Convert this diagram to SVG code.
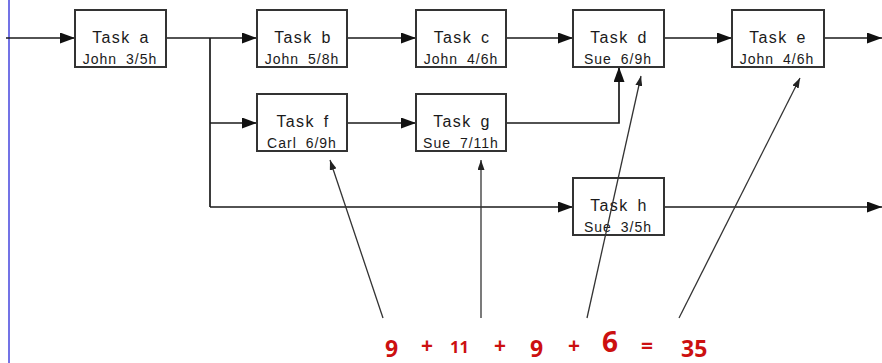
<svg xmlns="http://www.w3.org/2000/svg" width="882" height="363" viewBox="0 0 882 363">
<style>
.box{fill:#fff;stroke:#333;stroke-width:2}
.t{font-family:"Liberation Sans",Arial,sans-serif;font-size:16px;fill:#1a1a1a;text-anchor:middle;letter-spacing:1.4px;word-spacing:3px}
.s{font-family:"Liberation Sans",Arial,sans-serif;font-size:14px;fill:#1a1a1a;text-anchor:middle;letter-spacing:1px;word-spacing:4px}
.c{fill:none;stroke:#1a1a1a;stroke-width:1.7}
.n{fill:none;stroke:#333;stroke-width:1.3}
.eq{font-family:"Open Sans","Liberation Sans",sans-serif;font-weight:700;fill:#cc1010}
</style>
<defs>
<marker id="ah" markerUnits="userSpaceOnUse" markerWidth="15" markerHeight="11" refX="15" refY="5.5" orient="auto">
<path d="M0,0 L15,5.5 L0,11 z" fill="#111"/>
</marker>
<marker id="sh" markerUnits="userSpaceOnUse" markerWidth="10" markerHeight="7" refX="10" refY="3.5" orient="auto">
<path d="M0,0 L10,3.5 L0,7 z" fill="#222"/>
</marker>
</defs>
<rect width="882" height="363" fill="#fff"/>
<line x1="9" y1="0" x2="9" y2="363" stroke="#7373e6" stroke-width="2"/>
<g id="connectors">
<path class="c" d="M6,38 H75" marker-end="url(#ah)"/>
<path class="c" d="M166,38 H257" marker-end="url(#ah)"/>
<path class="c" d="M210,38 V207"/>
<path class="c" d="M210,123 H257" marker-end="url(#ah)"/>
<path class="c" d="M210,207 H573" marker-end="url(#ah)"/>
<path class="c" d="M347,38 H416" marker-end="url(#ah)"/>
<path class="c" d="M506,38 H573" marker-end="url(#ah)"/>
<path class="c" d="M664,38 H732" marker-end="url(#ah)"/>
<path class="c" d="M824,38 H882" marker-end="url(#ah)"/>
<path class="c" d="M347,123 H416" marker-end="url(#ah)"/>
<path class="c" d="M506,123 H619 V67" marker-end="url(#ah)"/>
<path class="c" d="M664,207 H882" marker-end="url(#ah)"/>
</g>
<g id="task-a"><rect class="box" x="75" y="10" width="91" height="57"/><text class="t" x="121" y="43">Task a</text><text class="s" x="120" y="64">John 3/5h</text></g>
<g id="task-b"><rect class="box" x="257" y="10" width="90" height="57"/><text class="t" x="303" y="43">Task b</text><text class="s" x="302" y="64">John 5/8h</text></g>
<g id="task-c"><rect class="box" x="416" y="10" width="90" height="57"/><text class="t" x="462" y="43">Task c</text><text class="s" x="461" y="64">John 4/6h</text></g>
<g id="task-d"><rect class="box" x="573" y="10" width="91" height="57"/><text class="t" x="619" y="43">Task d</text><text class="s" x="618" y="64">Sue 6/9h</text></g>
<g id="task-e"><rect class="box" x="732" y="10" width="92" height="57"/><text class="t" x="778" y="43">Task e</text><text class="s" x="777" y="64">John 4/6h</text></g>
<g id="task-f"><rect class="box" x="257" y="94" width="90" height="57"/><text class="t" x="303" y="127">Task f</text><text class="s" x="302" y="148">Carl 6/9h</text></g>
<g id="task-g"><rect class="box" x="416" y="94" width="90" height="57"/><text class="t" x="462" y="127">Task g</text><text class="s" x="461" y="148">Sue 7/11h</text></g>
<g id="task-h"><rect class="box" x="573" y="178" width="91" height="57"/><text class="t" x="619" y="211">Task h</text><text class="s" x="618" y="232">Sue 3/5h</text></g>
<g id="annotations">
<path class="n" d="M383,318 L330,160" marker-end="url(#sh)"/>
<path class="n" d="M481,318 L481,160" marker-end="url(#sh)"/>
<path class="n" d="M587,318 L641,76" marker-end="url(#sh)"/>
<path class="n" d="M679,318 L800,78" marker-end="url(#sh)"/>
</g>
<g id="equation">
<text class="eq"><tspan x="385" y="357" font-size="23">9</tspan><tspan x="421" y="353" font-size="21">+</tspan><tspan x="450" y="353" font-size="16.5">11</tspan><tspan x="494" y="353" font-size="21">+</tspan><tspan x="530" y="357" font-size="23">9</tspan><tspan x="568" y="353" font-size="21">+</tspan><tspan x="602" y="352" font-size="28">6</tspan><tspan x="641" y="353" font-size="21">=</tspan><tspan x="681" y="357" font-size="23">35</tspan></text>
</g>
</svg>
